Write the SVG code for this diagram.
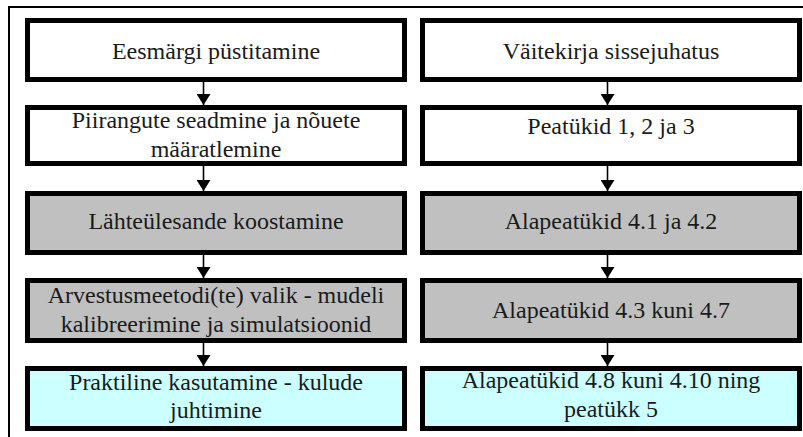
<svg xmlns="http://www.w3.org/2000/svg" width="803" height="437" viewBox="0 0 803 437">
  <style>
    .box { stroke: #000; stroke-width: 5; }
    .white { fill: #ffffff; }
    .grey { fill: #c0c0c0; }
    .cyan { fill: #ccffff; }
    .label { font-size: 24px; fill: #1a1a1a; text-anchor: middle; }
    .link { stroke: #000; stroke-width: 1.6; fill: none; }
    .frame { stroke: #000; stroke-width: 2; fill: none; }
  </style>
  <defs>
    <marker id="arrow" viewBox="0 0 11 14" refX="11" refY="7" markerWidth="11" markerHeight="14" markerUnits="userSpaceOnUse" orient="auto">
      <path d="M0,0 L11,7 L0,14 z" fill="#000"/>
    </marker>
  </defs>
  <rect width="803" height="437" fill="#ffffff"/>

  <!-- page frame -->
  <path class="frame" d="M9,437 L9,7 L803,7"/>

  <g font-family="Liberation Serif, Times New Roman, Times, DejaVu Serif, serif">
  <!-- left column -->
  <g id="eesmargi">
    <rect class="box white" x="27.5" y="20.5" width="377" height="59"/>
    <text class="label" x="216" y="59">Eesmärgi püstitamine</text>
  </g>
  <g id="piirangute">
    <rect class="box white" x="27.5" y="107.5" width="377" height="56"/>
    <text class="label" x="216" y="128">Piirangute seadmine ja nõuete</text>
    <text class="label" x="216" y="157">määratlemine</text>
  </g>
  <g id="lahteulesande">
    <rect class="box grey" x="27.5" y="193.5" width="377" height="59"/>
    <text class="label" x="216" y="229">Lähteülesande koostamine</text>
  </g>
  <g id="arvestusmeetodid">
    <rect class="box grey" x="27.5" y="280.5" width="377" height="60"/>
    <text class="label" x="216" y="303">Arvestusmeetodi(te) valik - mudeli</text>
    <text class="label" x="216" y="332">kalibreerimine ja simulatsioonid</text>
  </g>
  <g id="praktiline">
    <rect class="box cyan" x="27.5" y="368.5" width="377" height="60"/>
    <text class="label" x="216" y="390">Praktiline kasutamine - kulude</text>
    <text class="label" x="216" y="418">juhtimine</text>
  </g>

  <!-- right column -->
  <g id="sissejuhatus">
    <rect class="box white" x="422.5" y="20.5" width="377" height="59"/>
    <text class="label" x="611" y="59">Väitekirja sissejuhatus</text>
  </g>
  <g id="peatykid123">
    <rect class="box white" x="422.5" y="107.5" width="377" height="56"/>
    <text class="label" x="611" y="134">Peatükid 1, 2 ja 3</text>
  </g>
  <g id="alapeatykid41">
    <rect class="box grey" x="422.5" y="193.5" width="377" height="59"/>
    <text class="label" x="611" y="229">Alapeatükid 4.1 ja 4.2</text>
  </g>
  <g id="alapeatykid43">
    <rect class="box grey" x="422.5" y="280.5" width="377" height="60"/>
    <text class="label" x="611" y="318">Alapeatükid 4.3 kuni 4.7</text>
  </g>
  <g id="alapeatykid48">
    <rect class="box cyan" x="422.5" y="368.5" width="377" height="60"/>
    <text class="label" x="611" y="388">Alapeatükid 4.8 kuni 4.10 ning</text>
    <text class="label" x="611" y="417">peatükk 5</text>
  </g>
  </g>

  <!-- connectors -->
  <g id="connectors">
    <line class="link" x1="203.5" y1="82" x2="203.5" y2="105" marker-end="url(#arrow)"/>
    <line class="link" x1="203.5" y1="166" x2="203.5" y2="191" marker-end="url(#arrow)"/>
    <line class="link" x1="203.5" y1="255" x2="203.5" y2="278" marker-end="url(#arrow)"/>
    <line class="link" x1="203.5" y1="343" x2="203.5" y2="366" marker-end="url(#arrow)"/>
    <line class="link" x1="607.5" y1="82" x2="607.5" y2="105" marker-end="url(#arrow)"/>
    <line class="link" x1="607.5" y1="166" x2="607.5" y2="191" marker-end="url(#arrow)"/>
    <line class="link" x1="607.5" y1="255" x2="607.5" y2="278" marker-end="url(#arrow)"/>
    <line class="link" x1="607.5" y1="343" x2="607.5" y2="366" marker-end="url(#arrow)"/>
  </g>
</svg>
